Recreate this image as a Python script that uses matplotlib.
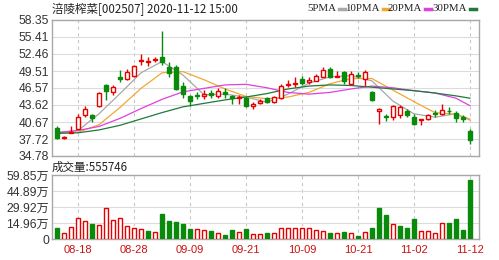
import matplotlib
matplotlib.use('Agg')
import matplotlib.pyplot as plt
from matplotlib.lines import Line2D
import numpy as np

plt.rcParams['font.family'] = ['Noto Sans CJK SC', 'DejaVu Sans']

title = '涪陵榨菜[002507] 2020-11-12 15:00'
vol_label = '成交量:555746'

dates = ['08-13', '08-14', '08-17', '08-18', '08-19', '08-20', '08-21', '08-24', '08-25', '08-26',
         '08-27', '08-28', '08-31', '09-01', '09-02', '09-03', '09-04', '09-07', '09-08', '09-09',
         '09-10', '09-11', '09-14', '09-15', '09-16', '09-17', '09-18', '09-21', '09-22', '09-23',
         '09-24', '09-25', '09-28', '09-29', '09-30', '10-09', '10-12', '10-13', '10-14', '10-15',
         '10-16', '10-19', '10-20', '10-21', '10-22', '10-23', '10-26', '10-27', '10-28', '10-29',
         '10-30', '11-02', '11-03', '11-04', '11-05', '11-06', '11-09', '11-10', '11-11', '11-12']
tick_dates = ['08-18', '08-28', '09-09', '09-21', '10-09', '10-21', '11-02', '11-12']

opens = [39.7, 37.9, 38.8, 39.5, 41.9, 41.9, 43.4, 47.0, 45.8, 48.4,
         48.05, 48.6, 51.2, 51.1, 51.4, 51.9, 50.2, 50.2, 46.9, 45.1,
         45.3, 45.1, 45.7, 45.1, 45.9, 45.1, 44.9, 44.9, 43.5, 44.0,
         44.8, 44.1, 44.9, 47.0, 47.2, 48.1, 47.6, 47.8, 48.5, 49.9,
         48.5, 49.3, 47.3, 48.9, 48.2, 45.8, 42.5, 41.7, 41.5, 41.8,
         42.6, 41.5, 41.0, 41.2, 42.3, 42.1, 42.6, 42.3, 41.5, 39.1]
highs = [39.9, 38.3, 39.9, 42.0, 43.5, 42.0, 45.8, 47.2, 47.0, 49.6,
         49.9, 50.5, 52.4, 51.9, 52.0, 56.5, 51.1, 50.5, 47.6, 45.3,
         45.8, 46.3, 46.2, 46.5, 46.5, 45.3, 45.3, 45.0, 44.2, 44.7,
         45.0, 45.2, 47.2, 48.0, 48.4, 48.6, 48.5, 49.0, 50.2, 50.2,
         49.5, 49.5, 49.5, 49.3, 49.6, 46.0, 43.1, 42.1, 43.7, 43.7,
         43.0, 42.0, 41.2, 42.0, 42.7, 43.8, 43.2, 42.6, 41.9, 39.4]
lows = [37.8, 37.7, 38.7, 39.4, 41.5, 40.7, 43.3, 44.5, 45.4, 47.6,
        47.9, 48.4, 50.6, 50.4, 51.0, 50.6, 48.5, 46.2, 44.9, 43.5,
        44.7, 44.7, 44.9, 44.9, 44.9, 43.8, 43.8, 43.2, 42.9, 43.8,
        43.9, 44.0, 44.6, 46.8, 46.8, 47.0, 47.3, 47.7, 48.4, 48.3,
        48.5, 47.3, 47.0, 48.3, 46.9, 44.3, 40.3, 40.9, 41.1, 41.4,
        41.6, 40.2, 40.2, 41.0, 41.6, 41.8, 42.0, 40.7, 40.7, 36.8]
closes = [37.9, 38.0, 39.0, 41.5, 42.9, 41.4, 45.7, 46.1, 46.7, 48.1,
          49.3, 50.4, 51.4, 51.25, 51.6, 51.1, 49.2, 46.4, 45.5, 44.3,
          45.1, 45.5, 45.4, 46.1, 45.6, 44.9, 45.0, 43.5, 43.8, 44.3,
          44.1, 45.0, 46.9, 47.3, 47.4, 47.5, 48.0, 48.7, 49.7, 48.5,
          48.6, 47.7, 49.0, 48.7, 49.3, 44.4, 42.9, 41.5, 43.4, 43.2,
          41.8, 40.4, 41.2, 41.8, 42.1, 42.7, 42.5, 41.3, 41.2, 37.5]
volumes = [10.6, 5.9, 11.5, 19.3, 16.8, 13.7, 13.1, 28.7, 17.8, 19.9,
           12.2, 10.6, 9.1, 7.8, 6.8, 23.7, 16.8, 15.6, 13.9, 9.5,
           9.3, 8.6, 7.8, 5.9, 4.1, 8.6, 6.2, 9.5, 4.5, 4.5,
           5.3, 5.9, 10.5, 10.5, 10.5, 10.5, 10.5, 8.4, 7.8, 5.3,
           5.3, 6.2, 5.3, 3.1, 6.2, 10.0, 29.3, 22.4, 13.7, 12.5,
           10.6, 18.4, 7.5, 7.5, 5.9, 14.6, 15.3, 19.0, 8.4, 55.57]

ma_idx = [0, 3, 6, 9, 12, 15, 18, 21, 24, 27, 30, 33, 36, 39, 42, 45, 48, 51, 54, 57, 59]
ma5 = [38.9, 39.2, 42.1, 45.6, 49.2, 51.15, 48.8, 45.4, 45.5, 45.0, 44.1, 45.5, 47.4, 48.5,
       48.7, 47.8, 44.3, 42.1, 41.5, 42.1, 41.0]
ma10 = [38.8, 38.9, 40.2, 43.2, 46.5, 49.2, 49.4, 48.0, 46.4, 45.1, 44.7, 45.0, 45.8, 47.3,
        48.2, 48.2, 46.2, 44.2, 42.3, 42.0, 41.2]
ma20 = [38.8, 39.2, 39.9, 41.3, 43.0, 44.6, 45.9, 46.5, 47.1, 47.2, 46.6, 45.8, 45.5, 45.8,
        46.4, 46.9, 46.6, 46.1, 45.7, 44.8, 43.5]
ma30 = [38.7, 38.8, 39.3, 40.1, 41.2, 42.3, 43.3, 43.9, 44.5, 45.0, 45.6, 46.4, 46.9, 47.1,
        47.0, 46.7, 46.4, 46.1, 45.7, 45.2, 44.8]
ma_names = ['5PMA', '10PMA', '20PMA', '30PMA']

price_ticks = [34.78, 37.72, 40.67, 43.62, 46.57, 49.51, 52.46, 55.41, 58.35]
vol_ticks = [0, 14.96, 29.92, 44.89, 59.85]
vol_tick_labels = ['0', '14.96万', '29.92万', '44.89万', '59.85万']

RED = '#e80000'
GREEN = '#0a8a0a'
MA_COLORS = ['#a8a8a8', '#f0a830', '#e040e0', '#1e7a3c']
GRID = '#dcdcdc'
SPINE = '#a8a8a8'

W, H = 499, 260
fig = plt.figure(figsize=(W / 100, H / 100), dpi=100)
L, R = 52, 479


def axrect(top, bottom):
    return [L / W, 1 - bottom / H, (R - L) / W, (bottom - top) / H]


ax = fig.add_axes(axrect(20, 156))
axv = fig.add_axes(axrect(175, 239))

x = np.arange(len(dates))
o = np.array(opens)
c = np.array(closes)
hi = np.array(highs)
lo = np.array(lows)
up = c >= o
cols = [RED if u else GREEN for u in up]
faces = ['white' if u else GREEN for u in up]
body_bottom = np.minimum(o, c)
body_h = np.maximum(np.abs(c - o), 0.06)

tick_pos = [dates.index(d) for d in tick_dates]
xlim = (-0.72, len(dates) - 1 + 1.3)

for a in (ax, axv):
    a.set_xlim(*xlim)
    a.set_xticks(tick_pos)
    a.grid(axis='x', color='#c8c8c8', lw=0.8, ls=(0, (3, 3)))
    a.grid(axis='y', color=GRID, lw=0.8)
    a.set_axisbelow(True)
    for s in a.spines.values():
        s.set_color(SPINE)
        s.set_linewidth(1)
    a.tick_params(length=0, labelsize=8.5, colors='#333333', pad=2)

# price panel
ax.set_ylim(price_ticks[0], price_ticks[-1])
ax.set_yticks(price_ticks)
ax.set_yticklabels([f'{v:.2f}' for v in price_ticks], family=['Liberation Sans'], fontsize=8.7,
                   color='#333333')
ax.set_xticklabels([])
for lst, col in zip([ma5, ma10, ma20, ma30], MA_COLORS):
    ax.plot(ma_idx, lst, color=col, lw=0.9, zorder=2)
ax.vlines(x, lo, hi, colors=cols, lw=1, zorder=3)
ax.bar(x, body_h, bottom=body_bottom, width=0.68, color=faces, edgecolor=cols, lw=1, zorder=4)

# volume panel
prev = np.concatenate([[o[0]], c[:-1]])
vup = c >= prev
vcols = [RED if u else GREEN for u in vup]
vfaces = ['white' if u else GREEN for u in vup]
axv.bar(x, volumes, width=0.68, color=vfaces, edgecolor=vcols, lw=1, zorder=3)
axv.set_ylim(0, vol_ticks[-1])
axv.set_yticks(vol_ticks)
axv.set_yticklabels(vol_tick_labels, family=['Liberation Sans', 'Noto Sans CJK SC'], fontsize=8.7,
                    color='#333333')
axv.set_xticklabels(tick_dates, fontsize=8, color='#cc1111', family=['Liberation Sans'])
axv.tick_params(axis='x', pad=4)

# texts
fig.text(52 / W, 1 - 9 / H, title, fontsize=8.3, va='center', ha='left', color='#222222')
fig.text(52 / W, 1 - 167 / H, vol_label, fontsize=8.3, va='center', ha='left', color='#222222')

leg_x = [307, 345, 388, 432]
for name, col, lx in zip(ma_names, MA_COLORS, leg_x):
    t = fig.text(lx / W, 1 - 8.5 / H, name, fontsize=7.8, va='center', ha='left',
                 family=['Liberation Serif'], color='#222222')
    fig.canvas.draw()
    bb = t.get_window_extent()
    x0 = bb.x1 + 3
    fig.add_artist(Line2D([x0 / W, (x0 + 6) / W], [1 - 8.5 / H, 1 - 8.5 / H], color=col, lw=2.5,
                          transform=fig.transFigure))

fig.savefig('out.png', dpi=100)
